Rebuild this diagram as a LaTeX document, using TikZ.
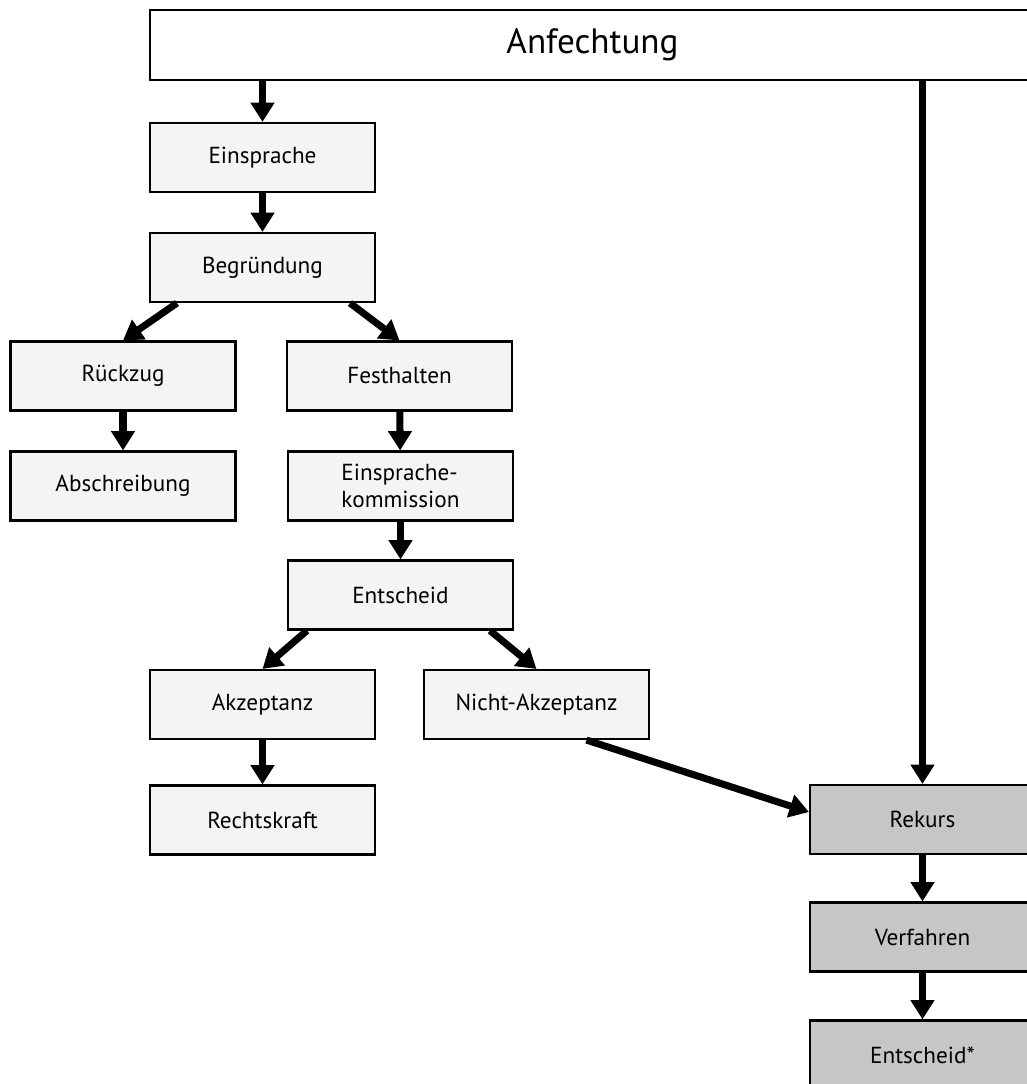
\documentclass[tikz,border=0pt]{standalone}
\usepackage{fontspec}
\setmainfont{PT Sans}
\usetikzlibrary{arrows.meta}
\definecolor{boxgray}{HTML}{F4F4F4}
\definecolor{darkgray}{HTML}{C6C6C6}
\tikzset{
	box/.style={draw, line width=0.6pt, fill=boxgray, minimum width=2.25cm, minimum height=0.69cm, inner sep=0pt, font=\fontsize{6.6}{7.8}\selectfont, align=left},
	darkbox/.style={box, fill=darkgray},
	arr/.style={line width=2pt, -{Triangle[length=5.5pt,width=6.5pt]}}
}
\begin{document}
\begin{tikzpicture}
	\useasboundingbox (0,0) rectangle (10.27,-10.84);
	\clip (0,0) rectangle (10.27,-10.84);
	\node [draw, line width=0.6pt, fill=white, minimum width=8.85cm, minimum height=0.70cm, font=\fontsize{10}{12}\selectfont] (anf) at (5.925,-0.45) {Anfechtung};
	\node [box] (ein) at (2.625,-1.575) {Einsprache};
	\node [box] (beg) at (2.625,-2.675) {Begründung};
	\node [box] (rue) at (1.23,-3.76) {Rückzug};
	\node [box] (fest) at (3.995,-3.76) {Festhalten};
	\node [box] (abs) at (1.23,-4.86) {Abschreibung};
	\node [box] (kom) at (4.005,-4.86) {Einsprache-\\kommission};
	\node [box] (ent) at (4.005,-5.95) {Entscheid};
	\node [box] (akz) at (2.625,-7.045) {Akzeptanz};
	\node [box] (nak) at (5.365,-7.045) {Nicht-Akzeptanz};
	\node [box] (rk) at (2.625,-8.2) {Rechtskraft};
	\node [darkbox] (rek) at (9.225,-8.195) {Rekurs};
	\node [darkbox] (ver) at (9.225,-9.37) {Verfahren};
	\node [darkbox] (ents) at (9.225,-10.55) {Entscheid*};

	\draw [arr] (ein.north |- anf.south) -- (ein.north);
	\draw [arr] (rek.north |- anf.south) -- (rek.north);
	\draw [arr] (ein) -- (beg);
	\draw [arr] ([xshift=-0.855cm]beg.south) -- (rue.north);
	\draw [arr] ([xshift=0.875cm]beg.south) -- (fest.north);
	\draw [arr] (rue) -- (abs);
	\draw [arr] (fest) -- (kom);
	\draw [arr] (kom) -- (ent);
	\draw [arr] ([xshift=-0.935cm]ent.south) -- (akz.north);
	\draw [arr] ([xshift=0.895cm]ent.south) -- (nak.north);
	\draw [arr] (akz) -- (rk);
	\draw [arr] ([xshift=0.5cm]nak.south) -- ([yshift=0.075cm]rek.west);
	\draw [arr] (rek) -- (ver);
	\draw [arr] (ver) -- (ents);
\end{tikzpicture}
\end{document}
